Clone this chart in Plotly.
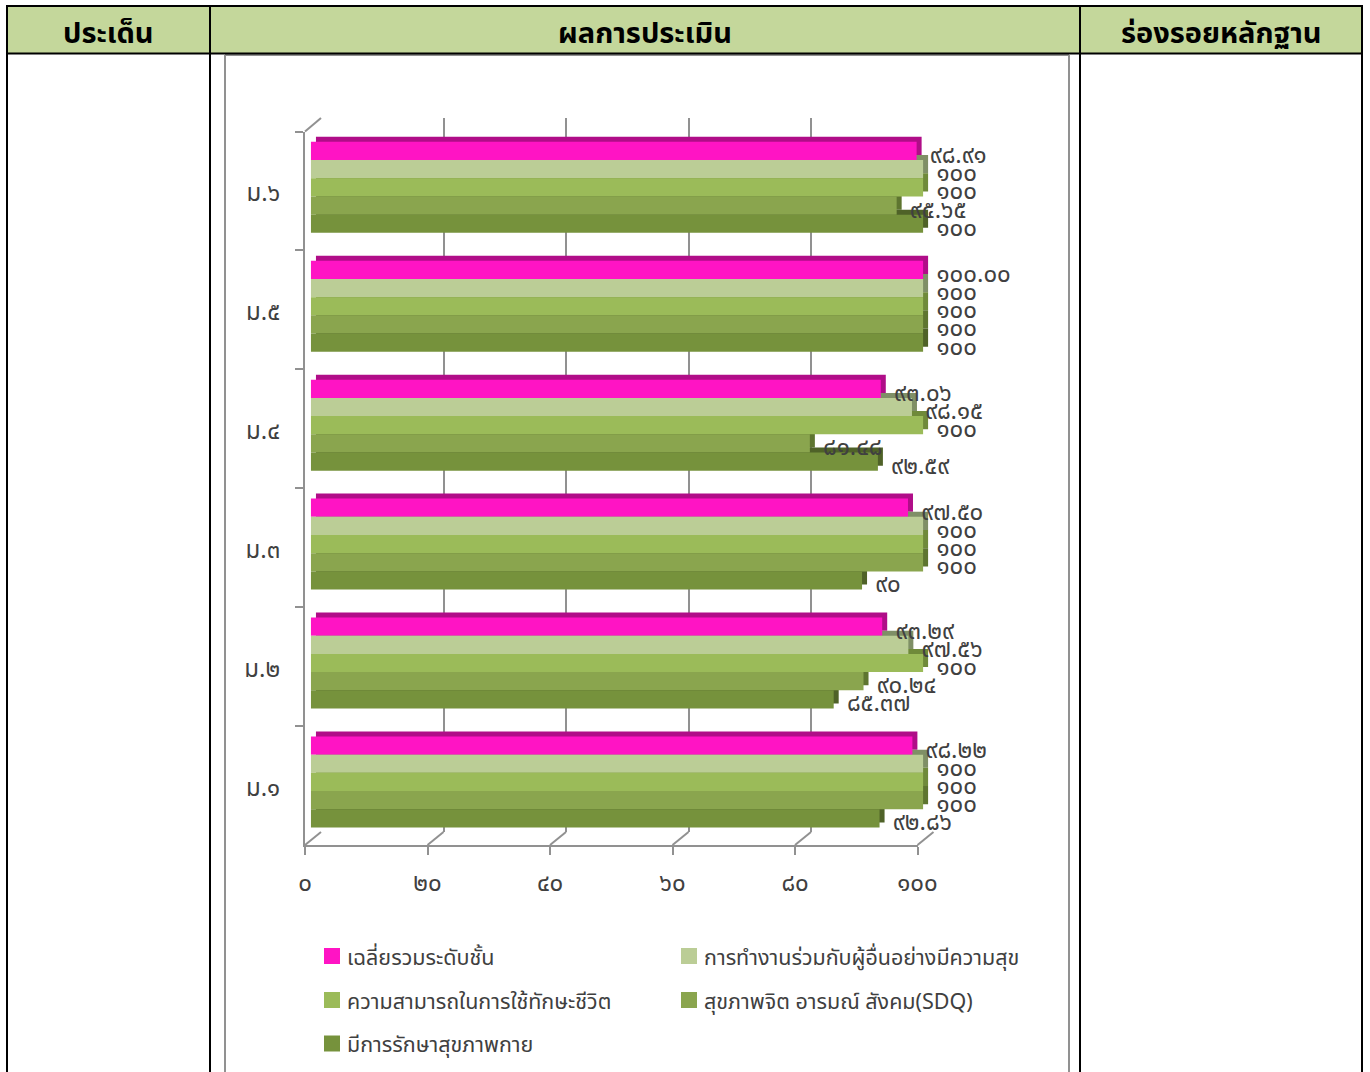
import plotly.graph_objects as go

W, H = 1370, 1072

levels = ["ม.๖", "ม.๕", "ม.๔", "ม.๓", "ม.๒", "ม.๑"]
series_names = ["เฉลี่ยรวมระดับชั้น", "การทำงานร่วมกับผู้อื่นอย่างมีความสุข", "ความสามารถในการใช้ทักษะชีวิต",
                "สุขภาพจิต อารมณ์ สังคม(SDQ)", "มีการรักษาสุขภาพกาย"]

avg_all = [98.91, 100.00, 93.06, 97.50, 93.29, 98.22]
teamwork = [100, 100, 98.15, 100, 97.56, 100]
life_skill = [100, 100, 100, 100, 100, 100]
mental = [95.65, 100, 81.48, 100, 90.24, 100]
physical = [100, 100, 92.59, 90, 85.37, 92.86]

avg_all_txt = ["๙๘.๙๑", "๑๐๐.๐๐", "๙๓.๐๖", "๙๗.๕๐", "๙๓.๒๙", "๙๘.๒๒"]
teamwork_txt = ["๑๐๐", "๑๐๐", "๙๘.๑๕", "๑๐๐", "๙๗.๕๖", "๑๐๐"]
life_skill_txt = ["๑๐๐", "๑๐๐", "๑๐๐", "๑๐๐", "๑๐๐", "๑๐๐"]
mental_txt = ["๙๕.๖๕", "๑๐๐", "๘๑.๔๘", "๑๐๐", "๙๐.๒๔", "๑๐๐"]
physical_txt = ["๑๐๐", "๑๐๐", "๙๒.๕๙", "๙๐", "๘๕.๓๗", "๙๒.๘๖"]

x_ticks = [0, 20, 40, 60, 80, 100]
x_tick_labels = ["๐", "๒๐", "๔๐", "๖๐", "๘๐", "๑๐๐"]

headers = ["ประเด็น", "ผลการประเมิน", "ร่องรอยหลักฐาน"]

face_colors = ["#FF14C4", "#BBCD96", "#9BBB59", "#8AA54E", "#76923C"]
side_colors = ["#B00D88", "#7F8F66", "#6F8A3A", "#5E7530", "#4F6228"]

all_values = [avg_all, teamwork, life_skill, mental, physical]
all_text = [avg_all_txt, teamwork_txt, life_skill_txt, mental_txt, physical_txt]

FONT = "Noto Sans Thai, Noto Sans, sans-serif"
AXIS_GREY = "#919191"
TEXT_GREY = "#404040"


def px_x(p):
    return p / W


def px_y(p):
    return 1 - p / H


def xdom(left):
    return [px_x(left), px_x(left + 612.5)]


def ydom(top):
    return [px_y(top + 713.5), px_y(top)]


fig = go.Figure()

# back wall only carries the gridlines
fig.add_trace(go.Scatter(x=avg_all, y=levels, mode="none", xaxis="x", yaxis="y", showlegend=False, hoverinfo="skip"))

# the 3d look: dark copy of each bar, pushed back, then faces on top
for vals, col, name in zip(all_values, side_colors, series_names):
    fig.add_trace(go.Bar(x=vals, y=levels, orientation="h", marker=dict(color=col, line_width=0),
                         xaxis="x2", yaxis="y2", showlegend=False, name=name))
for vals, col, name in zip(all_values, face_colors, series_names):
    fig.add_trace(go.Bar(x=vals, y=levels, orientation="h", marker=dict(color=col, line_width=0),
                         xaxis="x3", yaxis="y3", showlegend=False, name=name))
for vals, txt in zip(all_values, all_text):
    fig.add_trace(go.Bar(x=vals, y=levels, orientation="h", text=txt, textposition="outside",
                         textangle=0, constraintext="none", cliponaxis=False,
                         textfont=dict(family=FONT, size=24, color=TEXT_GREY),
                         marker=dict(color="rgba(0,0,0,0)", line_width=0),
                         xaxis="x4", yaxis="y4", showlegend=False, hoverinfo="skip"))

# front axes
fig.add_trace(go.Scatter(x=avg_all, y=levels, mode="none", xaxis="x5", yaxis="y5", showlegend=False, hoverinfo="skip"))

hidden = dict(visible=False, fixedrange=True)
cat_hidden = dict(visible=False, type="category", categoryorder="array", categoryarray=levels, range=[5.5, -0.5])

layout_axes = dict(
    xaxis=dict(domain=xdom(321), range=[0, 100], anchor="y", showgrid=True, gridcolor=AXIS_GREY, gridwidth=2,
               tickvals=x_ticks, showticklabels=False, ticks="", zeroline=False, showline=False),
    yaxis=dict(domain=[px_y(832), px_y(118)], type="category", categoryorder="array", categoryarray=levels,
               range=[5.5, -0.5], anchor="x", showgrid=False, showticklabels=False, ticks="", zeroline=False,
               showline=False),
    xaxis2=dict(domain=xdom(315.8), range=[0, 100], anchor="y2", **hidden),
    yaxis2=dict(domain=ydom(122.9), anchor="x2", **cat_hidden),
    xaxis3=dict(domain=xdom(310.8), range=[0, 100], anchor="y3", **hidden),
    yaxis3=dict(domain=ydom(127.9), anchor="x3", **cat_hidden),
    xaxis4=dict(domain=xdom(321), range=[0, 100], anchor="y4", **hidden),
    yaxis4=dict(domain=ydom(132.9), anchor="x4", **cat_hidden),
    xaxis5=dict(domain=xdom(305), range=[0, 100], anchor="y5", tickvals=x_ticks, ticktext=x_tick_labels,
                showgrid=False, zeroline=False, showline=True, linecolor=AXIS_GREY, linewidth=2,
                ticks="outside", ticklen=8, tickwidth=2, tickcolor=AXIS_GREY, ticklabelstandoff=7,
                tickfont=dict(family=FONT, size=24, color=TEXT_GREY)),
    yaxis5=dict(domain=ydom(131.5), anchor="x5", type="category", categoryorder="array", categoryarray=levels,
                range=[5.5, -0.5], tickson="boundaries", showgrid=False, zeroline=False, showline=True,
                linecolor=AXIS_GREY, linewidth=2, ticks="outside", ticklen=8, tickwidth=2, tickcolor=AXIS_GREY,
                ticklabelstandoff=18, ticklabelshift=-2, tickfont=dict(family=FONT, size=24, color=TEXT_GREY)),
)

shapes = []
annotations = []


def line(x0, y0, x1, y1, color, width, layer="above"):
    shapes.append(dict(type="line", xref="paper", yref="paper", x0=px_x(x0), y0=px_y(y0), x1=px_x(x1), y1=px_y(y1),
                       line=dict(color=color, width=width), layer=layer))


# table
shapes.append(dict(type="rect", xref="paper", yref="paper", x0=px_x(7), x1=px_x(1362), y0=px_y(6), y1=px_y(53),
                   fillcolor="#C4D79B", line_width=0, layer="below"))
line(6, 6, 1363, 6, "black", 2)
line(6, 53.5, 1363, 53.5, "black", 2)
for xb in [7, 210, 1080, 1362]:
    line(xb, 5, xb, H, "black", 2)

# chart frame
line(225, 55, 225, H, AXIS_GREY, 2, "below")
line(1069, 55, 1069, H, AXIS_GREY, 2, "below")
line(225, 55, 1069, 55, AXIS_GREY, 2, "below")

# floor and corner slants
for t in x_ticks:
    xp = 305 + t * 6.125
    line(xp, 845, xp + 16, 832, AXIS_GREY, 2, "below")
line(305, 131.5, 321, 118, AXIS_GREY, 2, "below")

for txt, cx in zip(headers, [108, 644.5, 1221]):
    annotations.append(dict(text="<b>%s</b>" % txt, xref="paper", yref="paper", x=px_x(cx), y=px_y(33.5),
                            showarrow=False, xanchor="center", yanchor="middle",
                            font=dict(family=FONT, size=29, color="black")))

# legend, two columns by hand
leg_x = [324, 324 + 357, 324, 324 + 357, 324]
leg_y = [956, 956, 1000, 1000, 1043.5]
for name, col, lx, ly in zip(series_names, face_colors, leg_x, leg_y):
    shapes.append(dict(type="rect", xref="paper", yref="paper", x0=px_x(lx), x1=px_x(lx + 16),
                       y0=px_y(ly - 8), y1=px_y(ly + 8), fillcolor=col, line_width=0))
    annotations.append(dict(text=name, xref="paper", yref="paper", x=px_x(lx + 21), y=px_y(ly + 2),
                            showarrow=False, xanchor="left", yanchor="middle",
                            font=dict(family=FONT, size=21.5, color=TEXT_GREY)))

fig.update_layout(width=W, height=H, margin=dict(l=0, r=0, t=0, b=0, autoexpand=False), autosize=False,
                  paper_bgcolor="white", plot_bgcolor="rgba(0,0,0,0)",
                  barmode="group", bargap=0.235, bargroupgap=0,
                  showlegend=False, shapes=shapes, annotations=annotations, **layout_axes)

fig.write_html("out.html", config=dict(displayModeBar=False),
               post_script="document.body.style.margin='0';document.body.style.overflow='hidden';")
